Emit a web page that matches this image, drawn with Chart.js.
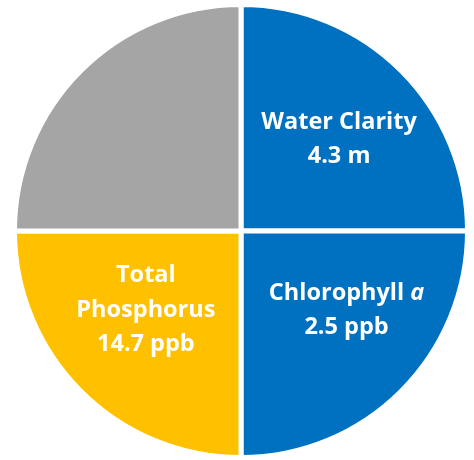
<!DOCTYPE html>
<html><head><meta charset="utf-8">
<script src="https://cdn.jsdelivr.net/npm/chart.js@4/dist/chart.umd.min.js"></script>
<style>html,body{margin:0;padding:0;background:#fff}#wrap{width:474px;height:460px}</style>
</head><body><div id="wrap"><canvas id="c" width="474" height="460"></canvas></div>
<script>
const categories = ["Water Clarity", "Chlorophyll a", "Total Phosphorus", ""];
const values = [1, 1, 1, 1];
const valueLabels = ["4.3 m", "2.5 ppb", "14.7 ppb", ""];
const colors = ["#0070C0", "#0070C0", "#FFC000", "#A5A5A5"];
// label lines: arrays of segments [text, italic]
const labelLines = [
  [[["Water Clarity", false]], [["4.3 m", false]]],
  [[["Chlorophyll ", false], ["a", true]], [["2.5 ppb", false]]],
  [[["Total", false]], [["Phosphorus", false]], [["14.7 ppb", false]]],
  []
];
const FONT = "'Open Sans', sans-serif";
const FS = 23.5;
const labelPlugin = {
  id: 'sliceLabels',
  afterDatasetsDraw(chart) {
    const ctx = chart.ctx;
    const meta = chart.getDatasetMeta(0);
    const offs = [[0.433, -0.405], [0.466, 0.35], [-0.42, 0.35], [0, 0]];
    meta.data.forEach((arc, i) => {
      const lines = labelLines[i];
      if (!lines.length) return;
      const R = arc.outerRadius;
      const cx = arc.x + offs[i][0] * R;
      const cy = arc.y + offs[i][1] * R;
      const lh = 34.5;
      ctx.save();
      ctx.fillStyle = '#fff';
      ctx.textBaseline = 'middle';
      ctx.textAlign = 'left';
      lines.forEach((segs, li) => {
        const y = cy + (li - (lines.length - 1) / 2) * lh;
        let total = 0;
        const widths = segs.map(([t, it]) => { ctx.font = (it ? 'italic ' : '') + 'bold ' + FS + 'px ' + FONT; const w = ctx.measureText(t).width; total += w; return w; });
        let x = cx - total / 2;
        segs.forEach(([t, it], si) => { ctx.font = (it ? 'italic ' : '') + 'bold ' + FS + 'px ' + FONT; ctx.fillText(t, x, y); x += widths[si]; });
      });
      ctx.restore();
    });
  }
};
new Chart(document.getElementById('c'), {
  type: 'pie',
  data: { labels: categories, datasets: [{ data: values, backgroundColor: colors, borderColor: '#ffffff', borderWidth: 5 }] },
  options: {
    responsive: false, animation: false,
    layout: { padding: { left: 12, right: 4, top: 2, bottom: 0 } },
    plugins: { legend: { display: false }, tooltip: { enabled: false } }
  },
  plugins: [labelPlugin]
});
</script></body></html>
